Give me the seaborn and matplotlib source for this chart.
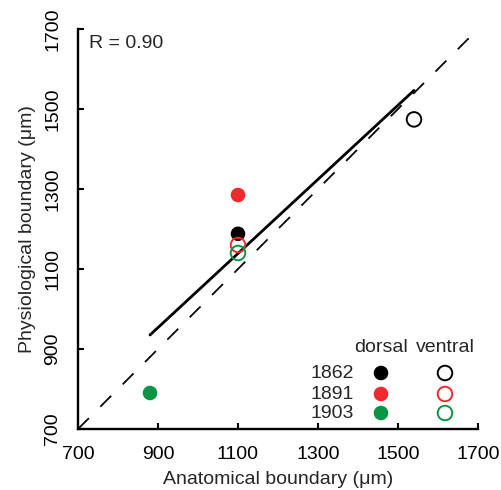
import matplotlib
matplotlib.use("Agg")
import matplotlib.pyplot as plt
import seaborn as sns
import pandas as pd
import numpy as np

# Boundary positions (anatomical vs physiological), per animal and side
animals = ["1862", "1891", "1903", "1862", "1891", "1903"]
sides = ["dorsal", "dorsal", "dorsal", "ventral", "ventral", "ventral"]
anatomical = [1100, 1100, 880, 1540, 1100, 1100]
physiological = [1188, 1285, 790, 1474, 1160, 1140]

animal_order = ["1862", "1891", "1903"]
animal_colors = {"1862": "#000000", "1891": "#EE2A2E", "1903": "#0A9444"}
r_text = "R = 0.90"

df = pd.DataFrame({"animal": animals, "side": sides,
                   "anatomical": anatomical, "physiological": physiological})

sns.set_style("ticks")
plt.rcParams["font.family"] = ["Liberation Sans", "DejaVu Sans"]
plt.rcParams["font.size"] = 14

fig = plt.figure(figsize=(5.02, 4.90), dpi=100)
ax = fig.add_axes([78 / 502, 61 / 490, 400 / 502, 400 / 490])

# identity line
ax.plot([700, 1700], [700, 1700], color="black", lw=1.3,
        dashes=(8.5, 9.0), zorder=1)

# linear regression over all boundaries
sns.regplot(data=df, x="anatomical", y="physiological", scatter=False,
            ci=None, truncate=True, color="black",
            line_kws=dict(lw=2.0, zorder=2), ax=ax)

ms = 110
for side in ["dorsal", "ventral"]:
    for animal in animal_order:
        sub = df[(df.side == side) & (df.animal == animal)]
        col = animal_colors[animal]
        if side == "dorsal":
            sns.scatterplot(data=sub, x="anatomical", y="physiological",
                            color=col, s=ms, edgecolor="none",
                            zorder=3, ax=ax, legend=False)
        else:
            sns.scatterplot(data=sub, x="anatomical", y="physiological",
                            s=ms, facecolor="none", edgecolor=col,
                            linewidth=1.4, zorder=4, ax=ax, legend=False)

ax.set_xlim(700, 1700)
ax.set_ylim(700, 1700)
ticks = [700, 900, 1100, 1300, 1500, 1700]
ax.set_xticks(ticks)
ax.set_yticks(ticks)
ax.set_yticklabels([str(t) for t in ticks], rotation=90, va="center")
ax.tick_params(direction="in", length=4, width=1.5, labelsize=14, pad=12,
               colors="black")
sns.despine(ax=ax)
for s in ["left", "bottom"]:
    ax.spines[s].set_linewidth(1.7)
    ax.spines[s].set_color("black")

ax.set_xlabel("Anatomical boundary (μm)", fontsize=14, labelpad=6)
ax.set_ylabel("Physiological boundary (μm)", fontsize=14, labelpad=6)

ax.text(0.028, 0.985, r_text, transform=ax.transAxes, fontsize=14,
        ha="left", va="top")

# key: animals as rows, dorsal (filled) / ventral (open) as columns
col_x = {"dorsal": 0.7575, "ventral": 0.9175}
row_y = [0.14, 0.0875, 0.04]
ax.text(col_x["dorsal"], 0.2025, "dorsal", transform=ax.transAxes,
        ha="center", va="center", fontsize=14)
ax.text(col_x["ventral"], 0.2025, "ventral", transform=ax.transAxes,
        ha="center", va="center", fontsize=14)
for animal, yy in zip(animal_order, row_y):
    col = animal_colors[animal]
    ax.text(0.69, yy, animal, transform=ax.transAxes, ha="right",
            va="center", fontsize=14)
    ax.scatter([col_x["dorsal"]], [yy], transform=ax.transAxes, s=ms,
               color=col, edgecolor="none", clip_on=False, zorder=5)
    ax.scatter([col_x["ventral"]], [yy], transform=ax.transAxes, s=ms,
               facecolor="none", edgecolor=col, linewidth=1.4,
               clip_on=False, zorder=5)

fig.savefig("out.png", dpi=100)
